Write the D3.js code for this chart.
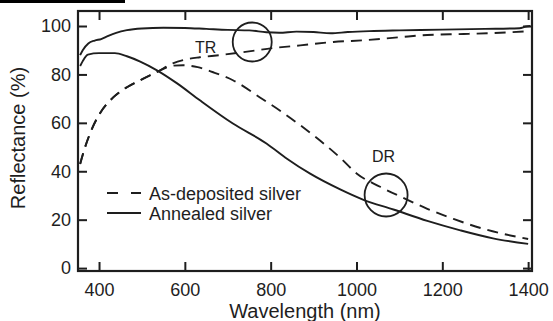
<!DOCTYPE html>
<html>
<head>
<meta charset="utf-8">
<script src="https://cdn.jsdelivr.net/npm/d3@7"></script>
<style>
  body { margin: 0; background: #fff; }
  svg { display: block; font-family: "Liberation Sans", Arial, sans-serif; }
</style>
</head>
<body>
<div id="chart"></div>
<script>
// wavelength (nm) and reflectance (%)
const annealedTR = [[356,88],[362,90],[375,92.8],[390,94],[405,94.6],[420,95.8],[440,97.2],[465,98.3],[500,99],[550,99.3],[600,99.2],[650,98.8],[700,98.4],[750,98.2],[790,97.4],[820,97.2],[860,97.7],[900,97.5],[940,97],[980,97.5],[1030,97.9],[1100,98.2],[1200,98.5],[1300,98.8],[1380,99.1],[1395,99.8],[1405,100]];
const annealedDR = [[356,83.5],[362,85.5],[374,88.2],[400,88.8],[437,88.8],[465,87.5],[496,85.3],[535,81.7],[582,76.3],[635,69.3],[712,59.7],[791,51.4],[838,45.2],[892,39],[962,32.5],[1015,28.3],[1086,24.2],[1165,19.5],[1242,15.6],[1318,12.3],[1400,10]];
const depositedTR = [[356,43],[360,45.6],[379,55.6],[402,63.9],[433,70.5],[465,74.7],[496,77.6],[535,81],[572,84.6],[605,86.3],[635,87.1],[682,88],[736,89.2],[806,90.9],[869,92],[946,93.4],[1025,94.2],[1102,95.4],[1165,96.3],[1250,96.7],[1318,97.1],[1400,97.8]];
const depositedDR = [[356,43],[360,45.6],[379,55.6],[402,63.9],[433,70.5],[465,74.7],[496,77.6],[535,81],[572,83.6],[596,83.8],[630,83],[666,80.9],[712,77.6],[775,70.5],[822,65],[869,59],[915,52.7],[962,45.6],[1001,39],[1055,33.6],[1109,29],[1165,24.5],[1226,20.3],[1296,16.2],[1400,12]];
const xTicks = [400, 600, 800, 1000, 1200, 1400];
const yTicks = [0, 20, 40, 60, 80, 100];
const circles = [[757, 93.4], [1069, 30.2]];
const legendLabels = ["As-deposited silver", "Annealed silver"];

const width = 553, height = 321;
const ink = "#1e1e1e";

const svg = d3.select("#chart").append("svg")
    .attr("width", width)
    .attr("height", height);

const x = d3.scaleLinear().domain([351, 1409]).range([78, 532]);
const y = d3.scaleLinear().domain([-1.2, 106.2]).range([271, 11]);

// black bar at the top left
svg.append("rect")
    .attr("x", 0).attr("y", 0)
    .attr("width", 125).attr("height", 3)
    .attr("fill", "#000");

// axes, ticks pointing inward
function styleAxis(g) {
    g.select(".domain").remove();
    g.selectAll(".tick line").attr("stroke", ink).attr("stroke-width", 2);
    g.selectAll(".tick text").attr("fill", ink).style("font-size", "18px");
}

svg.append("g")
    .attr("transform", "translate(0,271)")
    .call(d3.axisBottom(x).tickValues(xTicks).tickSize(-9).tickPadding(12).tickFormat(d3.format("d")))
    .call(styleAxis);

svg.append("g")
    .attr("transform", "translate(0,11)")
    .call(d3.axisTop(x).tickValues(xTicks).tickSize(-9).tickFormat(""))
    .call(styleAxis);

svg.append("g")
    .attr("transform", "translate(78,0)")
    .call(d3.axisLeft(y).tickValues(yTicks).tickSize(-9).tickPadding(7))
    .call(styleAxis);

svg.append("g")
    .attr("transform", "translate(532,0)")
    .call(d3.axisRight(y).tickValues(yTicks).tickSize(-9).tickFormat(""))
    .call(styleAxis);

// frame
svg.append("rect")
    .attr("x", 78).attr("y", 11)
    .attr("width", 454).attr("height", 260)
    .attr("fill", "none")
    .attr("stroke", ink)
    .attr("stroke-width", 2.2);

const line = d3.line()
    .x(d => x(d[0]))
    .y(d => y(d[1]))
    .curve(d3.curveMonotoneX);

const series = [
    {data: annealedTR, dash: null},
    {data: annealedDR, dash: null},
    {data: depositedTR, dash: "11,7"},
    {data: depositedDR, dash: "11,7"}
];

svg.selectAll(".curve")
    .data(series)
    .join("path")
    .attr("class", "curve")
    .attr("d", d => line(d.data))
    .attr("fill", "none")
    .attr("stroke", ink)
    .attr("stroke-width", 1.9)
    .attr("stroke-dasharray", d => d.dash);

// highlight circles
svg.selectAll(".ring")
    .data(circles)
    .join("circle")
    .attr("class", "ring")
    .attr("cx", d => x(d[0]))
    .attr("cy", d => y(d[1]))
    .attr("r", (d, i) => i === 0 ? 19.5 : 21.5)
    .attr("fill", "none")
    .attr("stroke", ink)
    .attr("stroke-width", 1.8);

svg.append("text")
    .attr("x", 195).attr("y", 53)
    .attr("fill", ink)
    .style("font-size", "16px")
    .text("TR");

svg.append("text")
    .attr("x", 372).attr("y", 162)
    .attr("fill", ink)
    .style("font-size", "16px")
    .text("DR");

// legend
const legend = svg.append("g");
legendLabels.forEach((label, i) => {
    const ly = 193 + i * 20;
    legend.append("line")
        .attr("x1", 107).attr("x2", 141)
        .attr("y1", ly).attr("y2", ly)
        .attr("stroke", ink)
        .attr("stroke-width", 1.9)
        .attr("stroke-dasharray", i === 0 ? "11,13" : null);
    legend.append("text")
        .attr("x", 149).attr("y", ly + 6.5)
        .attr("fill", ink)
        .style("font-size", "18px")
        .text(label);
});

// axis titles
svg.append("text")
    .attr("x", 305).attr("y", 318)
    .attr("text-anchor", "middle")
    .attr("fill", ink)
    .style("font-size", "20px")
    .text("Wavelength (nm)");

svg.append("text")
    .attr("transform", "translate(25,138) rotate(-90)")
    .attr("text-anchor", "middle")
    .attr("fill", ink)
    .style("font-size", "20px")
    .text("Reflectance (%)");
</script>
</body>
</html>
